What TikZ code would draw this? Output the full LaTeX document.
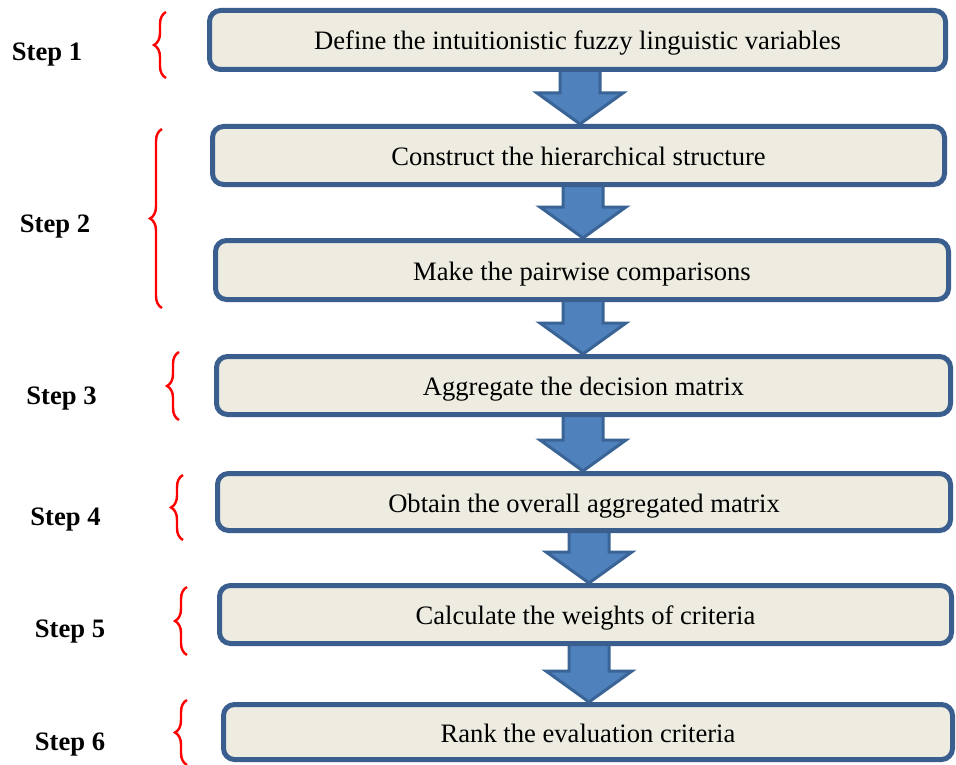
\documentclass[tikz,border=0pt]{standalone}
\usepackage{fontspec}
\setmainfont{Liberation Serif}
\usetikzlibrary{decorations.pathreplacing,calc}
\pgfdeclarelayer{bg}
\pgfdeclarelayer{back}
\pgfsetlayers{bg,back,main}
\definecolor{boxfill}{HTML}{EEECE1}
\definecolor{boxline}{HTML}{3A5F8E}
\definecolor{arrfill}{HTML}{4F81BD}
\definecolor{arrline}{HTML}{3A6496}
\definecolor{bracered}{HTML}{FF0000}
\tikzset{
  stepbox/.style={draw=boxline, fill=boxfill, line width=5pt, rounded corners=11pt,
    inner sep=0pt, text height=20pt, text depth=0pt,
    font=\fontsize{26.6}{30}\selectfont, text=black},
  steplabel/.style={font=\fontsize{26.6}{30}\selectfont\bfseries, text=black, inner sep=0pt},
  redbrace/.style={draw=bracered, line width=2.4pt, decorate,
    decoration={brace, amplitude=12pt, aspect=0.5}},
  barrow/.style={draw=arrline, fill=arrfill, line width=3pt, line join=miter}
}
\newcommand{\blockarrow}[3]{% from, to, x
  \begin{pgfonlayer}{back}
  \draw[barrow] let \p1=(#1.south), \p2=(#2.north) in
    ({#3pt-20pt},{\y1+6pt}) -- ({#3pt-20pt},{\y2+31pt}) -- ({#3pt-43pt},{\y2+31pt})
    -- ({#3pt},{\y2}) -- ({#3pt+43pt},{\y2+31pt}) -- ({#3pt+20pt},{\y2+31pt})
    -- ({#3pt+20pt},{\y1+6pt}) -- cycle;
  \end{pgfonlayer}}
\begin{document}
\begin{tikzpicture}[x=1pt,y=-1pt]
\useasboundingbox (0,0) rectangle (956,765);
\begin{pgfonlayer}{bg}
\fill[white] (0,0) rectangle (956,765);
\end{pgfonlayer}
% boxes
\node[stepbox, minimum width=736pt, minimum height=59pt] (b1) at (577.5,40) {Define the intuitionistic fuzzy linguistic variables};
\node[stepbox, minimum width=732pt, minimum height=58pt] (b2) at (578.5,155.5) {Construct the hierarchical structure};
\node[stepbox, minimum width=733pt, minimum height=59pt] (b3) at (582,270) {Make the pairwise comparisons};
\node[stepbox, minimum width=734pt, minimum height=58pt] (b4) at (583.5,385.5) {Aggregate the decision matrix};
\node[stepbox, minimum width=733pt, minimum height=57pt] (b5) at (584,502) {Obtain the overall aggregated matrix};
\node[stepbox, minimum width=732pt, minimum height=58pt] (b6) at (585.5,614.5) {Calculate the weights of criteria};
\node[stepbox, minimum width=729pt, minimum height=55pt] (b7) at (588,732) {Rank the evaluation criteria};
% arrows
\blockarrow{b1}{b2}{580}
\blockarrow{b2}{b3}{583}
\blockarrow{b3}{b4}{583}
\blockarrow{b4}{b5}{583}
\blockarrow{b5}{b6}{589}
\blockarrow{b6}{b7}{589}
% braces
\coordinate (br1a) at (166,78); \coordinate (br1b) at (166,12);
\coordinate (br2a) at (162,308); \coordinate (br2b) at (162,129);
\coordinate (br3a) at (179,420); \coordinate (br3b) at (179,352);
\coordinate (br4a) at (183,540); \coordinate (br4b) at (183,475);
\coordinate (br5a) at (187,655); \coordinate (br5b) at (187,587);
\coordinate (br6a) at (187,765); \coordinate (br6b) at (187,700);
\draw[redbrace] (br1a) -- (br1b);
\draw[redbrace] (br2a) -- (br2b);
\draw[redbrace] (br3a) -- (br3b);
\draw[redbrace] (br4a) -- (br4b);
\draw[redbrace] (br5a) -- (br5b);
\draw[redbrace] (br6a) -- (br6b);
% step labels
\node[steplabel] (s1) at (47,55) {Step 1};
\node[steplabel] (s2) at (55,227) {Step 2};
\node[steplabel] (s3) at (61.5,399) {Step 3};
\node[steplabel] (s4) at (65.5,520) {Step 4};
\node[steplabel] (s5) at (70,632) {Step 5};
\node[steplabel] (s6) at (70,745) {Step 6};
\end{tikzpicture}
\end{document}
